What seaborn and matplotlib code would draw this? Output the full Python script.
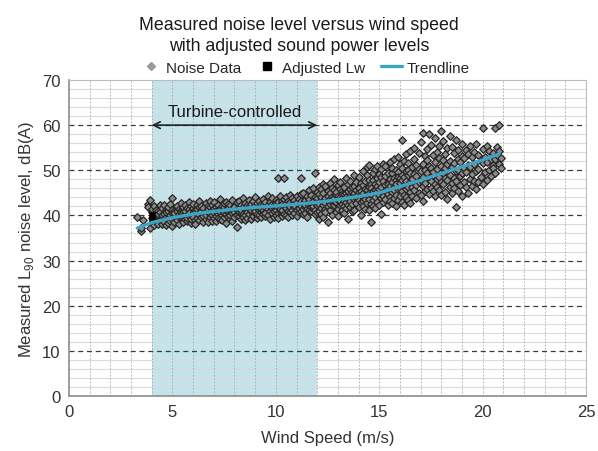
import matplotlib
matplotlib.use("Agg")
import matplotlib.pyplot as plt
from matplotlib.lines import Line2D
import seaborn as sns
import pandas as pd

# ---- data (wind speed columns, noise values per column) ----
speed_a = [3.3, 3.5, 3.6, 3.8, 3.9, 4.0, 4.1, 4.2, 4.3, 4.4, 4.5, 4.6, 4.7, 4.8, 4.9,
           5.0, 5.1, 5.2, 5.3, 5.4, 5.5, 5.6, 5.7, 5.8, 5.9, 6.0, 6.1, 6.2, 6.3, 6.4,
           6.5, 6.6, 6.7, 6.8, 6.9, 7.0, 7.1, 7.2, 7.3, 7.4, 7.5, 7.6, 7.7, 7.8, 7.9]
noise_a = [[39.7], [36.6, 37.2], [39.0], [42.5, 41.8], [43.4, 37.2],
           [39.5, 38.4, 40.8, 41.5], [39.0, 40.2, 42.0, 37.9], [38.6, 40.5, 39.8, 41.2],
           [39.9, 38.2, 41.0, 40.4], [40.8, 39.3, 38.9, 42.2], [38.0, 39.7, 41.6, 40.1],
           [40.3, 39.1, 42.4, 38.6], [41.1, 39.6, 37.8, 40.7], [39.4, 40.9, 38.3, 41.8],
           [40.2, 42.6, 39.0, 38.8], [43.9, 40.5, 39.2, 41.3, 37.6], [39.8, 41.0, 38.5, 40.6],
           [40.9, 39.4, 42.1, 38.9], [38.2, 40.3, 41.5, 39.7], [41.2, 39.6, 40.8, 42.8],
           [39.1, 40.7, 38.6, 41.9], [40.4, 42.3, 39.3, 41.0], [38.8, 40.0, 41.6, 39.5],
           [41.4, 39.9, 40.6, 43.0], [40.1, 38.4, 42.0, 39.2], [41.7, 40.3, 39.6, 42.5],
           [39.0, 41.1, 40.8, 38.2], [42.2, 40.5, 39.4, 41.5], [40.0, 41.8, 38.9, 43.3],
           [41.3, 39.7, 40.9, 42.0], [38.6, 40.4, 41.6, 39.9], [42.7, 41.0, 39.3, 40.2],
           [40.7, 42.1, 38.5, 41.4], [39.6, 41.9, 40.5, 43.1], [41.2, 40.0, 38.8, 42.4],
           [40.6, 42.9, 39.4, 41.7], [41.8, 39.9, 40.9, 38.7], [42.3, 40.3, 41.2, 39.5],
           [39.2, 41.5, 43.6, 40.8], [40.1, 42.0, 41.1, 38.9], [41.9, 39.7, 40.6, 42.8],
           [40.4, 43.0, 38.4, 41.3], [42.5, 40.9, 39.8, 41.6], [39.3, 41.2, 42.2, 40.0],
           [41.0, 43.4, 40.5, 38.8]]

speed_b = [8.0, 8.1, 8.2, 8.3, 8.4, 8.5, 8.6, 8.7, 8.8, 8.9, 9.0, 9.1, 9.2, 9.3, 9.4,
           9.5, 9.6, 9.7, 9.8, 9.9, 10.0, 10.1, 10.2, 10.3, 10.4, 10.5, 10.6, 10.7, 10.8,
           10.9, 11.0, 11.1, 11.2, 11.3, 11.4, 11.5, 11.6, 11.7, 11.8, 11.9, 12.0]
noise_b = [[40.7, 42.1, 39.6, 41.8], [37.4, 41.4, 42.9, 40.2], [41.6, 39.9, 43.2, 40.8],
           [42.4, 40.6, 39.2, 41.1], [40.3, 41.9, 43.8, 39.7], [41.5, 42.7, 40.0, 38.9],
           [39.5, 41.2, 42.4, 40.7], [42.0, 40.4, 43.5, 41.6], [40.9, 39.1, 42.6, 41.3],
           [41.7, 43.1, 40.2, 39.8], [42.3, 40.6, 41.0, 44.0], [39.4, 41.8, 42.8, 40.3],
           [41.1, 43.3, 40.0, 42.0], [40.8, 42.5, 39.6, 41.5], [43.7, 41.2, 40.4, 42.2],
           [39.9, 41.9, 42.9, 40.6], [42.4, 40.1, 41.4, 44.2], [41.0, 43.0, 39.3, 42.1],
           [40.5, 42.6, 41.7, 43.8], [41.9, 39.7, 42.3, 40.9], [43.4, 41.3, 40.2, 42.7],
           [48.3, 41.8, 40.6, 42.9, 39.5], [42.2, 44.4, 40.9, 41.5], [41.1, 43.1, 39.9, 42.5],
           [48.3, 42.0, 40.4, 43.6], [41.6, 44.0, 42.8, 40.1], [43.2, 41.0, 42.4, 39.6],
           [40.7, 42.9, 44.6, 41.8], [42.6, 41.3, 40.0, 43.9], [41.9, 43.5, 42.2, 40.5],
           [44.3, 41.2, 42.9, 39.8], [42.4, 40.8, 43.7, 41.6], [48.3, 42.0, 44.8, 41.0, 43.1],
           [40.3, 42.7, 41.5, 45.0], [43.4, 41.9, 42.3, 40.6], [41.4, 44.2, 42.8, 39.7],
           [42.9, 45.6, 41.1, 43.6], [40.9, 42.5, 44.5, 41.8], [43.3, 41.6, 42.1, 46.0],
           [49.4, 42.8, 44.1, 40.4, 41.3], [43.8, 42.2, 45.2, 40.8]]

speed_c = [12.1, 12.2, 12.3, 12.4, 12.5, 12.6, 12.7, 12.8, 12.9, 13.0, 13.1, 13.2, 13.3,
           13.4, 13.5, 13.6, 13.7, 13.8, 13.9, 14.0, 14.1, 14.2, 14.3, 14.4, 14.5, 14.6,
           14.7, 14.8, 14.9, 15.0, 15.1, 15.2, 15.3, 15.4, 15.5, 15.6, 15.7, 15.8, 15.9,
           16.0, 16.1, 16.2, 16.3, 16.4, 16.5]
noise_c = [[42.6, 44.7, 41.0, 39.2, 46.3], [43.5, 41.7, 45.8, 40.3, 44.0],
           [44.9, 42.3, 39.6, 43.2, 47.0], [41.4, 43.9, 46.5, 42.8, 40.7],
           [45.3, 42.0, 44.4, 38.5, 43.1], [43.7, 47.2, 41.2, 44.9, 42.5],
           [40.2, 44.1, 42.9, 46.0, 43.4], [45.6, 41.8, 43.9, 42.3, 48.1],
           [42.7, 44.6, 40.8, 45.1, 43.0], [46.7, 43.5, 41.5, 44.2, 39.8],
           [44.0, 42.4, 45.9, 43.2, 47.5], [41.1, 45.4, 43.8, 42.6, 44.7],
           [43.3, 46.4, 40.5, 44.8, 42.0], [45.0, 42.9, 48.3, 44.1, 41.6],
           [43.6, 46.9, 42.2, 45.5, 39.3], [44.4, 41.9, 47.6, 43.1, 45.8],
           [42.5, 45.2, 44.0, 40.9, 46.2], [46.6, 43.7, 41.3, 44.9, 49.0],
           [43.9, 47.3, 42.7, 45.6, 44.3], [45.1, 41.8, 48.5, 43.4, 46.0],
           [42.9, 44.6, 47.1, 40.2, 45.5], [46.8, 43.3, 44.9, 49.8, 42.1],
           [44.2, 47.7, 41.5, 45.9, 43.6], [45.6, 42.8, 48.9, 44.5, 50.7],
           [51.2, 43.7, 46.4, 41.2, 45.0, 47.9], [38.5, 44.8, 47.0, 42.6, 46.1],
           [45.3, 49.4, 43.5, 47.8, 42.0], [46.9, 44.1, 50.3, 41.7, 45.7],
           [43.0, 48.2, 45.4, 46.5, 51.0], [47.3, 44.6, 42.4, 49.1, 45.9],
           [40.3, 46.2, 48.6, 43.8, 50.2], [45.0, 47.6, 44.3, 51.5, 42.9],
           [48.8, 43.6, 46.8, 45.4, 50.9], [44.7, 47.0, 42.3, 49.5, 46.1],
           [46.5, 51.8, 44.0, 48.0, 43.2], [49.3, 45.2, 47.4, 42.7, 50.5],
           [43.9, 48.4, 46.3, 52.6, 45.6], [47.8, 44.5, 50.0, 46.9, 42.1],
           [45.9, 49.7, 43.4, 48.6, 53.0], [48.2, 46.0, 51.3, 44.2, 47.2],
           [56.7, 45.3, 49.0, 43.0, 47.9, 50.6], [46.7, 52.1, 44.6, 48.5, 42.4],
           [49.8, 45.8, 47.6, 53.5, 44.0], [43.5, 48.9, 51.6, 46.4, 50.1],
           [47.5, 54.2, 45.1, 49.4, 42.8]]

speed_d = [16.6, 16.7, 16.8, 16.9, 17.0, 17.1, 17.2, 17.3, 17.4, 17.5, 17.6, 17.7, 17.8,
           17.9, 18.0, 18.1, 18.2, 18.3, 18.4, 18.5, 18.6, 18.7, 18.8, 18.9, 19.0, 19.1,
           19.2, 19.3, 19.4, 19.5, 19.6, 19.7, 19.8, 19.9, 20.0, 20.1, 20.2, 20.3, 20.4,
           20.5, 20.6, 20.7, 20.8, 20.9]
noise_d = [[50.8, 46.2, 48.1, 44.3], [45.6, 52.6, 49.2, 55.0], [48.7, 43.9, 51.2, 46.8],
           [53.8, 47.4, 45.0, 50.3], [44.6, 49.9, 56.3, 47.9], [58.3, 51.4, 46.5, 48.5, 43.1],
           [47.2, 53.1, 50.0, 45.4], [49.5, 45.9, 54.7, 52.2], [58.0, 48.3, 44.8, 51.0],
           [46.1, 50.6, 55.6, 47.7], [53.4, 48.9, 45.3, 49.6], [44.2, 51.8, 47.0, 57.2],
           [50.2, 46.4, 54.1, 48.0], [48.6, 55.3, 45.7, 52.7], [58.7, 47.5, 50.9, 44.5],
           [52.3, 46.9, 49.3, 56.4], [45.1, 50.4, 48.2, 53.6], [54.9, 47.8, 51.5, 43.6],
           [49.0, 57.7, 46.3, 52.0], [47.1, 50.8, 55.2, 44.9], [51.7, 48.4, 46.0, 53.9],
           [41.9, 49.8, 56.8, 47.6], [52.5, 45.5, 50.1, 54.4], [48.8, 46.7, 51.9],
           [44.4, 53.2, 49.4, 55.8], [50.5, 47.3, 52.8], [46.2, 54.6, 49.7],
           [51.1, 45.0, 53.5], [48.1, 55.4, 50.7], [52.9, 46.6, 49.2], [47.7, 51.3, 54.0],
           [55.9, 49.9, 45.8], [50.3, 53.3, 47.4], [48.5, 52.1], [59.4, 46.9, 51.6, 54.7],
           [49.6, 53.0], [51.9, 47.9, 55.3], [54.3, 50.0], [48.7, 52.6], [53.8, 51.2, 50.4],
           [59.4, 52.4, 49.3], [55.2, 53.4], [60.0, 51.5, 54.3], [52.8, 50.6]]

adjusted_speed = [4.0, 4.0]
adjusted_lw = [39.0, 40.2]

trend_speed = [3.3, 4, 5, 6, 7, 8, 9, 10, 11, 12, 13, 14, 15, 16, 17, 18, 19, 20, 20.8]
trend_level = [37.2, 38.4, 39.5, 40.3, 40.9, 41.4, 41.8, 42.1, 42.5, 42.9, 43.5, 44.2,
               45.0, 46.4, 47.8, 49.3, 50.8, 52.3, 53.6]

turbine_range = [4, 12]
x_ticks = [0, 5, 10, 15, 20, 25]
y_ticks = [0, 10, 20, 30, 40, 50, 60, 70]

# ---- build long table ----
rows = []
for spds, cols in [(speed_a, noise_a), (speed_b, noise_b), (speed_c, noise_c), (speed_d, noise_d)]:
    for s, ys in zip(spds, cols):
        for y in ys:
            rows.append((s, y))
noise_df = pd.DataFrame(rows, columns=["speed", "level"])
adj_df = pd.DataFrame({"speed": adjusted_speed, "level": adjusted_lw})
trend_df = pd.DataFrame({"speed": trend_speed, "level": trend_level})

sns.set_theme(style="white")
plt.rcParams["font.family"] = ["Liberation Sans", "DejaVu Sans"]
plt.rcParams["mathtext.fontset"] = "custom"
plt.rcParams["mathtext.rm"] = "Liberation Sans"

fig, ax = plt.subplots(figsize=(5.98, 4.52), dpi=100)
fig.subplots_adjust(left=0.1154, right=0.98, top=0.8208, bottom=0.1217)

ax.set_xlim(0, 25)
ax.set_ylim(0, 70)

# shaded region
ax.axvspan(turbine_range[0], turbine_range[1], color="#c4e3eb", zorder=0, lw=0)

# grid
for v in range(1, 25):
    ax.axvline(v, color="#a8a8a8", lw=0.6, ls=(0, (2, 2)), zorder=0.5)
for h in range(2, 70, 2):
    if h % 10:
        ax.axhline(h, color="#dadada", lw=0.8, zorder=0.4)
for h in range(10, 70, 10):
    ax.axhline(h, color="#3a3a3a", lw=0.9, ls=(0, (4, 3)), zorder=0.6)

sns.scatterplot(data=noise_df, x="speed", y="level", marker="D", color="#8c8c8c",
                edgecolor="#262626", linewidth=0.9, s=15, ax=ax, zorder=3)
sns.scatterplot(data=adj_df, x="speed", y="level", marker="s", color="black",
                s=24, edgecolor="black", ax=ax, zorder=3.5)
sns.lineplot(data=trend_df, x="speed", y="level", color="#3ca5c5", lw=2.4, ax=ax,
             zorder=4)

ax.annotate("", xy=(turbine_range[0], 60), xytext=(turbine_range[1], 60),
            arrowprops=dict(arrowstyle="<->", color="#222222", lw=1.2,
                            shrinkA=0, shrinkB=0), zorder=5)
ax.text(8, 63.0, "Turbine-controlled", ha="center", va="center", fontsize=12,
        color="#1a1a1a", zorder=5)

ax.set_xticks(x_ticks)
ax.set_yticks(y_ticks)
ax.tick_params(axis="both", length=0, labelsize=12, colors="#333333", pad=6)
ax.set_xlabel("Wind Speed (m/s)", fontsize=12, color="#333333", labelpad=8)
ax.set_ylabel(r"Measured L$_\mathregular{90}$ noise level, dB(A)", fontsize=12,
              color="#333333")

for side in ["top", "right"]:
    ax.spines[side].set_color("#bdbdbd")
    ax.spines[side].set_linewidth(0.8)
for side in ["left", "bottom"]:
    ax.spines[side].set_color("#8c8c8c")
    ax.spines[side].set_linewidth(1.2)

fig.suptitle("Measured noise level versus wind speed\nwith adjusted sound power levels",
             fontsize=12.8, color="#1a1a1a", y=0.963, linespacing=1.3)

handles = [
    Line2D([], [], marker="D", ls="none", color="#9a9a9a", markersize=4,
           markeredgecolor="#9a9a9a"),
    Line2D([], [], marker="s", ls="none", color="black", markersize=6),
    Line2D([], [], color="#3ca5c5", lw=2.4),
]
fig.legend(handles, ["Noise Data", "Adjusted Lw", "Trendline"], loc="center",
           bbox_to_anchor=(0.51, 0.848), ncol=3, frameon=False, fontsize=11,
           handlelength=1.4, handletextpad=0.3, columnspacing=1.0)

fig.savefig("out.png", dpi=100)
